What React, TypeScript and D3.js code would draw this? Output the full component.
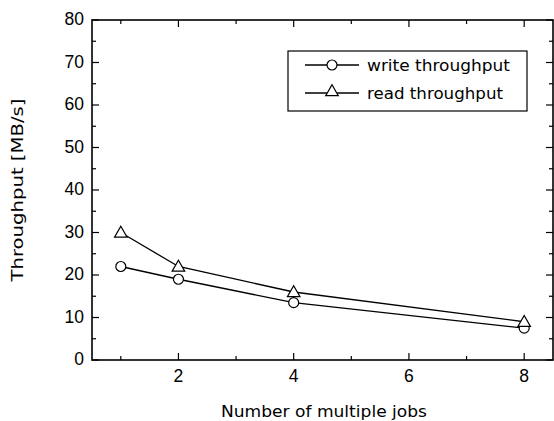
import React, { useEffect, useRef } from 'react';
import * as d3 from 'd3';

const jobs = [1, 2, 4, 8];
const writeThroughput = [22, 19, 13.5, 7.5];
const readThroughput = [30, 22, 16, 9];
const xTicks = [2, 4, 6, 8];
const xMinorTicks = [1, 3, 5, 7];
const yTicks = [0, 10, 20, 30, 40, 50, 60, 70, 80];
const yMinorTicks = [5, 15, 25, 35, 45, 55, 65, 75];

const App = () => {
  const ref = useRef<SVGSVGElement>(null);

  useEffect(() => {
    const svg = d3.select(ref.current);
    svg.selectAll('*').remove();

    const left = 92;
    const right = 553;
    const top = 20;
    const bottom = 360;
    const numFont = 'Liberation Sans, Arial, sans-serif';
    const font = 'DejaVu Sans, sans-serif';

    const x = d3.scaleLinear().domain([0.5, 8.5]).range([left, right]);
    const y = d3.scaleLinear().domain([0, 80]).range([bottom, top]);

    svg.append('rect').attr('width', 554).attr('height', 421).attr('fill', '#fff');

    const g = svg.append('g').attr('stroke', '#000').attr('stroke-width', 1.2);

    // ticks on all four sides, pointing inward
    xTicks.forEach((t) => {
      g.append('line').attr('x1', x(t)).attr('x2', x(t)).attr('y1', bottom).attr('y2', bottom - 7);
      g.append('line').attr('x1', x(t)).attr('x2', x(t)).attr('y1', top).attr('y2', top + 7);
    });
    xMinorTicks.forEach((t) => {
      g.append('line').attr('x1', x(t)).attr('x2', x(t)).attr('y1', bottom).attr('y2', bottom - 4);
      g.append('line').attr('x1', x(t)).attr('x2', x(t)).attr('y1', top).attr('y2', top + 4);
    });
    yTicks.forEach((t) => {
      g.append('line').attr('x1', left).attr('x2', left + 7).attr('y1', y(t)).attr('y2', y(t));
      g.append('line').attr('x1', right).attr('x2', right - 7).attr('y1', y(t)).attr('y2', y(t));
    });
    yMinorTicks.forEach((t) => {
      g.append('line').attr('x1', left).attr('x2', left + 4).attr('y1', y(t)).attr('y2', y(t));
      g.append('line').attr('x1', right).attr('x2', right - 4).attr('y1', y(t)).attr('y2', y(t));
    });

    g.append('rect')
      .attr('x', left)
      .attr('y', top)
      .attr('width', right - left)
      .attr('height', bottom - top)
      .attr('fill', 'none')
      .attr('stroke-width', 1.6);

    // tick labels
    svg.selectAll('.xl')
      .data(xTicks)
      .enter()
      .append('text')
      .attr('x', (d) => x(d))
      .attr('y', bottom + 22)
      .attr('text-anchor', 'middle')
      .attr('font-family', numFont)
      .attr('font-size', 17.5)
      .text((d) => d);

    svg.selectAll('.yl')
      .data(yTicks)
      .enter()
      .append('text')
      .attr('x', left - 8)
      .attr('y', (d) => y(d) + 5)
      .attr('text-anchor', 'end')
      .attr('font-family', numFont)
      .attr('font-size', 17.5)
      .text((d) => d);

    // axis titles
    svg.append('text')
      .attr('x', 324)
      .attr('y', 417)
      .attr('text-anchor', 'middle')
      .attr('font-family', font)
      .attr('font-size', 16.5)
      .attr('textLength', 206)
      .attr('lengthAdjust', 'spacingAndGlyphs')
      .text('Number of multiple jobs');

    svg.append('text')
      .attr('transform', `translate(23, ${(top + bottom) / 2}) rotate(-90)`)
      .attr('text-anchor', 'middle')
      .attr('font-family', font)
      .attr('font-size', 16.5)
      .attr('textLength', 183)
      .attr('lengthAdjust', 'spacingAndGlyphs')
      .text('Throughput [MB/s]');

    const line = d3.line<number>().x((_, i) => x(jobs[i])).y((d) => y(d));
    const tri = d3.symbol().type(d3.symbolTriangle).size(68);

    const drawSeries = (vals: number[], marker: 'circle' | 'triangle') => {
      svg.append('path')
        .attr('d', line(vals))
        .attr('fill', 'none')
        .attr('stroke', '#000')
        .attr('stroke-width', 1.3);
      vals.forEach((v, i) => {
        if (marker === 'circle') {
          svg.append('circle')
            .attr('cx', x(jobs[i]))
            .attr('cy', y(v))
            .attr('r', 5)
            .attr('fill', '#fff')
            .attr('stroke', '#000')
            .attr('stroke-width', 1.2);
        } else {
          svg.append('path')
            .attr('d', tri())
            .attr('transform', `translate(${x(jobs[i])}, ${y(v) + 1})`)
            .attr('fill', '#fff')
            .attr('stroke', '#000')
            .attr('stroke-width', 1.2);
        }
      });
    };

    drawSeries(writeThroughput, 'circle');
    drawSeries(readThroughput, 'triangle');

    // legend
    const lg = svg.append('g');
    lg.append('rect')
      .attr('x', 288)
      .attr('y', 51)
      .attr('width', 239)
      .attr('height', 60)
      .attr('fill', '#fff')
      .attr('stroke', '#000')
      .attr('stroke-width', 1.2);

    const items = [
      { label: 'write throughput', marker: 'circle', w: 143 },
      { label: 'read throughput', marker: 'triangle', w: 136 },
    ];
    items.forEach((it, i) => {
      const ly = 65 + i * 28;
      lg.append('line')
        .attr('x1', 305)
        .attr('x2', 359)
        .attr('y1', ly)
        .attr('y2', ly)
        .attr('stroke', '#000')
        .attr('stroke-width', 1.3);
      if (it.marker === 'circle') {
        lg.append('circle')
          .attr('cx', 332)
          .attr('cy', ly)
          .attr('r', 5)
          .attr('fill', '#fff')
          .attr('stroke', '#000')
          .attr('stroke-width', 1.2);
      } else {
        lg.append('path')
          .attr('d', tri())
          .attr('transform', `translate(332, ${ly - 1})`)
          .attr('fill', '#fff')
          .attr('stroke', '#000')
          .attr('stroke-width', 1.2);
      }
      lg.append('text')
        .attr('x', 367)
        .attr('y', ly + 6)
        .attr('font-family', font)
        .attr('font-size', 16.5)
        .attr('textLength', it.w)
        .attr('lengthAdjust', 'spacingAndGlyphs')
        .text(it.label);
    });
  }, []);

  return (
    <svg
      ref={ref}
      width={554}
      height={421}
      style={{ position: 'absolute', left: 0, top: 0, display: 'block' }}
    />
  );
};

export default App;
